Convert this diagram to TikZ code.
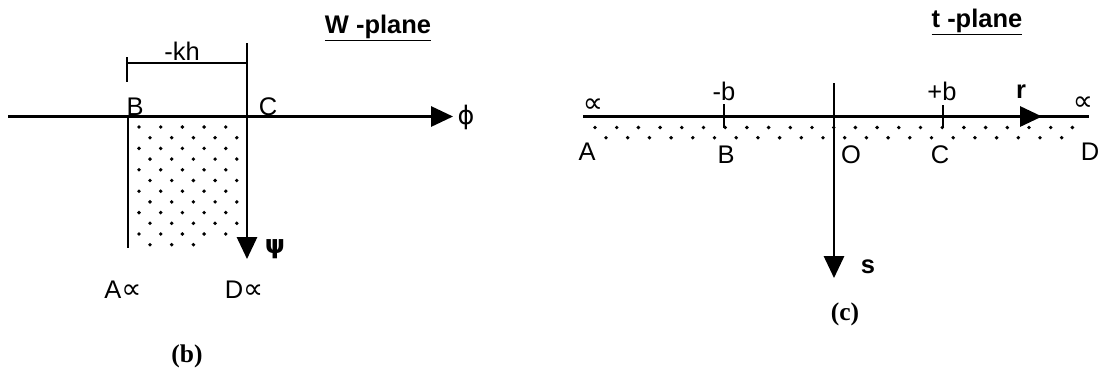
\documentclass[tikz,border=0pt]{standalone}
\usepackage{fontspec}
\setmainfont{Liberation Sans}
\newfontfamily\symfont{DejaVu Sans}
\newfontfamily\capfont{Liberation Serif}
\usetikzlibrary{arrows.meta}
\newcommand\labfont{\fontsize{14.5}{16}\selectfont}
\newcommand\titfont{\fontsize{14.5}{16}\selectfont\bfseries}
\newcommand\capsfont{\fontsize{14.5}{16}\selectfont\capfont\bfseries}
\newcommand\infsym{{\fontsize{16}{16}\selectfont\symfont ∝}}
\tikzset{
  axisline/.style={line width=1.3pt},
  arr/.style={line width=1.3pt,-{Triangle[length=12.5pt,width=11.5pt]}},
  lbl/.style={font=\labfont,inner sep=0pt,anchor=base},
  sym/.style={font=\labfont\symfont,inner sep=0pt},
  symb/.style={font=\labfont\symfont\bfseries,inner sep=0pt},
  titl/.style={font=\titfont,inner sep=0pt,anchor=base},
  capt/.style={font=\capsfont,inner sep=0pt},
  dot/.style={fill=black}
}
\begin{document}
\begin{tikzpicture}[x=0.02cm,y=-0.02cm]
\useasboundingbox (0,0) rectangle (1098,373);
% ---------------- W-plane ----------------
\coordinate (wL) at (8,116.5);
\coordinate (wR) at (453,116.5);
\coordinate (Bt) at (128,116.5);
\coordinate (Bb) at (128,248);
\coordinate (Ct) at (247,43);
\coordinate (Cb) at (247,259);
\coordinate (dL) at (127,63);
\coordinate (dR) at (247,63);
\coordinate (dLt) at (127,57);
\coordinate (dLb) at (127,82);
% dots
\foreach \k in {0,2,...,10}
  \foreach \i in {0,...,4}
    \fill[dot] (139+21.7*\i,127+10.7*\k) circle[radius=1.1pt];
\foreach \k in {1,3,...,9}
  \foreach \i in {0,...,4}
    \fill[dot] (150+21.7*\i,127+10.7*\k) circle[radius=1.1pt];
\foreach \i in {0,1,2}
  \fill[dot] (150+21.7*\i,244.7) circle[radius=1.1pt];
\draw[arr] (wL) -- (wR);
\draw[axisline] (Bt) -- (Bb);
\draw[arr] (Ct) -- (Cb);
\draw[axisline] (dL) -- (dR);
\draw[axisline] (dLt) -- (dLb);
\node[titl] (wtitle) at (378,33) {\underline{W -plane}};
\node[lbl] (kh) at (182,60) {-kh};
\node[lbl] (lB) at (135,115) {B};
\node[lbl] (lC) at (268,115) {C};
\node[sym] (phi) at (466,117) {ϕ};
\node[symb] (psi) at (275,249) {ψ};
\node[lbl] (lA) at (123,298) {A\infsym};
\node[lbl] (lD) at (244,298) {D\infsym};
\node[capt] (capb) at (187,356) {(b)};
% ---------------- t-plane ----------------
\coordinate (tL) at (583,116.5);
\coordinate (tR) at (1089,116.5);
\coordinate (rM) at (1020,116.5);
\coordinate (rT) at (1042,116.5);
\coordinate (sT) at (834,83);
\coordinate (sB) at (834,278);
\coordinate (mbT) at (724,104);
\coordinate (mbB) at (724,128);
\coordinate (pbT) at (943,105);
\coordinate (pbB) at (943,128);
\foreach \i in {0,...,22}
  \fill[dot] (595+21.7*\i,127.5) circle[radius=1.1pt];
\foreach \i in {0,...,21}
  \fill[dot] (606+21.7*\i,137.7) circle[radius=1.1pt];
\draw[axisline] (tL) -- (tR);
\draw[arr] (rM) -- (rT);
\draw[arr] (sT) -- (sB);
\draw[axisline] (mbT) -- (mbB);
\draw[axisline] (pbT) -- (pbB);
\node[titl] (ttitle) at (977,27) {\underline{t -plane}};
\node[inner sep=0pt] (infL) at (593,106) {\infsym};
\node[inner sep=0pt] (infR) at (1083,104) {\infsym};
\node[lbl] (mb) at (724,100) {-b};
\node[lbl] (pb) at (942,100) {+b};
\node[lbl,font=\labfont\bfseries] (rr) at (1021,98) {r};
\node[lbl] (tA) at (587,160) {A};
\node[lbl] (tB) at (726,163) {B};
\node[lbl] (tO) at (851,163) {O};
\node[lbl] (tC) at (940,163) {C};
\node[lbl] (tD) at (1090,160) {D};
\node[lbl,font=\labfont\bfseries] (ss) at (868,273) {s};
\node[capt] (capc) at (845,314) {(c)};
\end{tikzpicture}
\end{document}
